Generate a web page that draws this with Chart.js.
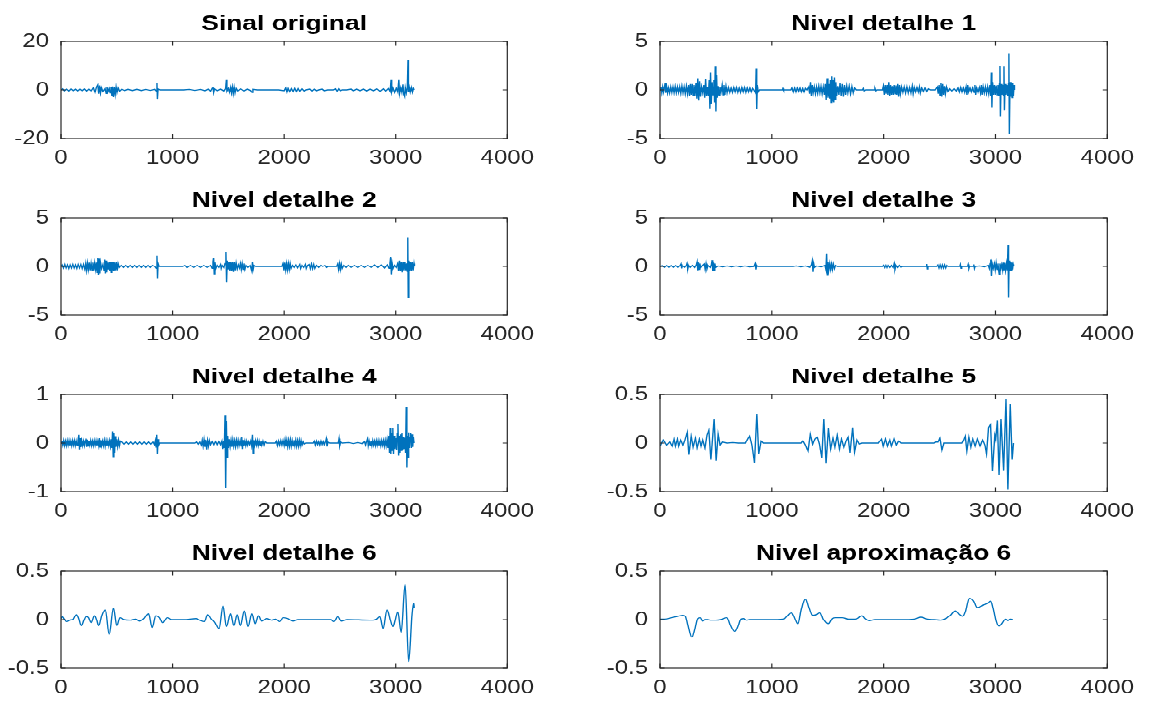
<!DOCTYPE html>
<html>
<head>
<meta charset="utf-8">
<title>Decomposição wavelet</title>
<script src="https://cdn.jsdelivr.net/npm/chart.js@4.4.0/dist/chart.umd.min.js"></script>
<style>
    html, body { margin: 0; padding: 0; background: #fff; overflow: hidden; }
    /* figure is laid out tall and squeezed vertically */
    #figure { position: absolute; left: 0; top: 0; width: 1151px; height: 876px;
              transform: scaleY(0.81); transform-origin: 0 0; }
    #figure canvas { position: absolute; }
</style>
</head>
<body>
<div id="figure"></div>
<script>
"use strict";

// [amostra, amplitude]
const sinalOriginal = [[0,0],[15,0.4],[30,-0.35],[50,0.3],[70,-0.4],[90,0.35],[110,-0.25],[130,0.3],[150,-0.35],[170,0.25],[190,-0.3],[210,0.35],[230,-0.4],[250,0.3],[270,-0.35],[290,0.8],[305,-0.9],[320,1.3],[330,2.0],[338,-1.6],[346,1.8],[354,-1.2],[362,0.9],[375,-0.6],[395,0.5],[405,-1.4],[412,1.3],[420,-0.8],[432,0.6],[440,-1.2],[448,1.2],[456,-2.4],[462,1.4],[470,-3.0],[478,1.0],[486,-1.8],[494,1.2],[502,-1.0],[512,0.8],[525,-0.5],[545,0.25],[570,-0.25],[600,0.25],[640,-0.25],[680,0.25],[720,-0.25],[760,0.2],[800,-0.2],[840,0.2],[855,-0.4],[860,2.7],[864,-3.7],[870,0.4],[890,0],[1000,0],[1100,0],[1150,0.2],[1200,-0.2],[1250,0.2],[1290,-0.3],[1320,0.3],[1340,-0.5],[1355,0.6],[1362,1.3],[1368,-1.0],[1375,0.4],[1400,-0.3],[1430,0.3],[1460,-0.4],[1475,0.5],[1482,4.1],[1487,-0.5],[1500,0.6],[1510,-0.9],[1520,1.0],[1528,-1.2],[1536,1.2],[1544,-1.5],[1552,1.0],[1560,-1.2],[1570,0.6],[1585,-0.4],[1610,0.4],[1640,-0.4],[1670,0.3],[1700,-0.3],[1712,-1.0],[1720,0.2],[1760,0],[1850,0],[1950,0],[2000,-0.3],[2015,0.8],[2025,-0.8],[2035,0.6],[2050,-0.7],[2065,0.5],[2080,-0.6],[2095,0.6],[2110,-0.6],[2125,0.5],[2140,-0.5],[2160,0.4],[2180,-0.4],[2195,0],[2230,0.3],[2250,-0.4],[2270,0.3],[2290,-0.3],[2310,0],[2340,0.3],[2360,-0.3],[2390,0],[2440,0],[2460,0.4],[2475,-0.5],[2490,0.4],[2505,-0.3],[2520,0],[2560,0],[2600,0.3],[2620,-0.3],[2650,0.3],[2680,-0.3],[2710,0.3],[2740,-0.4],[2770,0.3],[2800,-0.3],[2830,0.4],[2860,-0.5],[2890,0.4],[2910,-0.4],[2935,0.5],[2950,-0.6],[2958,4.1],[2964,-0.8],[2975,0.8],[2990,-1.0],[3005,0.7],[3018,-0.8],[3028,4.1],[3034,-1.5],[3045,0.9],[3055,-1.0],[3065,2.2],[3072,-1.8],[3080,-2.7],[3086,0.8],[3095,-1.2],[3104,1.0],[3110,12.3],[3114,-1.0],[3122,1.0],[3130,-0.8],[3140,1.0],[3150,-0.9],[3158,0.6],[3165,0]];

const detalhe1 = [[0,0],[8,0.3],[16,-0.3],[24,0.3],[32,-0.2],[40,0.3],[47,0.75],[52,-0.3],[60,0.3],[68,-0.3],[76,0.2],[86,-0.3],[96,0.3],[106,-0.25],[116,0.3],[126,-0.3],[136,0.35],[146,-0.3],[156,0.3],[166,-0.25],[176,0.3],[186,-0.35],[196,0.4],[206,-0.3],[216,0.3],[226,-0.4],[236,0.4],[246,-0.4],[256,0.5],[264,-0.6],[272,0.6],[280,-0.5],[288,0.6],[296,-0.6],[304,0.5],[312,-0.6],[322,0.7],[330,-0.9],[338,1.2],[346,-1.1],[354,0.9],[362,-0.7],[372,0.3],[382,-0.3],[392,0.5],[400,-0.8],[408,1.1],[416,-0.6],[424,0.3],[432,-0.6],[440,1.0],[446,-1.9],[452,1.8],[458,-1.5],[466,0.8],[474,-0.5],[482,1.0],[488,-1.3],[494,2.4],[500,-2.2],[506,1.5],[512,-0.8],[520,0.4],[528,-0.6],[536,0.3],[546,-0.2],[556,0.5],[564,-0.5],[572,0.5],[580,-0.5],[590,0.4],[600,-0.3],[612,0.25],[624,-0.25],[636,0.2],[648,-0.25],[660,0.25],[672,-0.2],[684,0.25],[696,-0.25],[708,0.2],[720,-0.25],[732,0.25],[744,-0.2],[756,0.25],[768,-0.25],[780,0.2],[792,-0.2],[804,0.2],[816,-0.2],[828,0.15],[840,0],[855,-0.3],[860,2.2],[865,-2.0],[870,0.5],[878,-0.2],[890,0],[1000,0],[1095,0],[1100,0.15],[1105,0],[1170,0],[1180,0.2],[1192,-0.2],[1204,0.2],[1216,-0.2],[1228,0.2],[1240,-0.15],[1252,0.2],[1264,-0.2],[1276,0.15],[1288,-0.2],[1300,0.15],[1315,0],[1330,0.3],[1338,-0.4],[1346,0.8],[1354,-0.6],[1362,0.5],[1370,-0.3],[1380,0.3],[1390,-0.4],[1400,0.3],[1410,-0.35],[1420,0.4],[1430,-0.3],[1440,0.35],[1450,-0.4],[1460,0.3],[1470,-0.5],[1478,0.6],[1486,-1.0],[1494,1.2],[1502,-0.8],[1510,0.6],[1518,-0.9],[1524,1.0],[1530,-1.3],[1536,1.4],[1542,-1.2],[1548,1.0],[1554,-1.3],[1560,1.3],[1566,-1.0],[1572,0.8],[1580,-0.6],[1590,0.4],[1600,-0.5],[1610,0.7],[1620,-0.6],[1630,0.6],[1640,-0.7],[1650,0.5],[1660,-0.5],[1670,0.4],[1680,-0.3],[1692,0.4],[1704,-0.4],[1716,0.35],[1728,-0.3],[1740,0.2],[1755,0],[1810,0],[1818,0.15],[1826,-0.1],[1840,0],[1915,0],[1922,0.15],[1930,-0.1],[1940,0],[1990,0],[1998,0.4],[2006,-0.5],[2014,0.5],[2022,-0.4],[2030,0.5],[2038,-0.5],[2046,0.8],[2054,-0.6],[2062,0.5],[2070,-0.5],[2078,0.4],[2086,-0.5],[2094,0.5],[2102,-0.4],[2110,0.45],[2118,-0.5],[2126,0.6],[2134,-0.7],[2142,0.5],[2150,-0.4],[2160,0.3],[2172,-0.25],[2184,0.3],[2196,-0.3],[2208,0.3],[2220,-0.3],[2232,0.25],[2244,-0.3],[2256,0.4],[2264,-0.4],[2274,0.25],[2286,-0.2],[2298,0.25],[2310,-0.2],[2320,0.3],[2328,-0.3],[2340,0.2],[2355,-0.15],[2370,0.2],[2385,-0.15],[2400,0.1],[2420,0],[2460,0],[2480,0.3],[2488,-0.4],[2496,0.5],[2504,-0.6],[2512,0.75],[2520,-0.7],[2528,0.6],[2536,-0.5],[2544,0.4],[2552,-0.4],[2562,0.3],[2575,-0.15],[2590,0.1],[2610,-0.1],[2630,0.1],[2650,-0.1],[2665,0.2],[2677,-0.2],[2689,0.25],[2701,-0.2],[2713,0.2],[2725,-0.25],[2737,0.3],[2745,-0.5],[2752,0.5],[2760,-0.2],[2772,0.2],[2784,-0.2],[2796,0.2],[2808,-0.25],[2816,0.5],[2823,-0.5],[2832,0.2],[2844,-0.2],[2856,0.25],[2866,-0.3],[2874,0.5],[2881,-0.5],[2890,0.3],[2900,-0.3],[2910,0.3],[2920,-0.35],[2930,0.3],[2940,-0.4],[2950,0.5],[2958,-0.6],[2963,1.8],[2968,-1.8],[2974,0.8],[2982,-0.5],[2990,0.5],[2998,-0.5],[3006,0.45],[3014,-0.5],[3022,0.5],[3030,-0.6],[3036,0.6],[3040,2.5],[3044,-2.7],[3050,0.6],[3058,-0.5],[3066,0.5],[3072,-0.6],[3076,2.4],[3080,-2.1],[3086,0.6],[3094,-0.5],[3102,0.5],[3110,-0.6],[3116,0.6],[3120,3.7],[3124,-4.5],[3130,0.8],[3136,-0.7],[3142,0.8],[3148,-0.8],[3154,0.7],[3160,-0.6],[3166,0.5],[3170,0]];

const detalhe2 = [[0,0],[10,0.15],[22,-0.15],[34,0.2],[46,-0.15],[58,0.15],[70,-0.2],[82,0.15],[94,-0.15],[106,0.2],[118,-0.15],[130,0.15],[142,-0.2],[154,0.2],[166,-0.15],[178,0.2],[190,-0.2],[202,0.2],[214,-0.3],[222,0.3],[230,-0.4],[238,0.35],[246,-0.3],[254,0.4],[262,-0.4],[270,0.3],[278,-0.35],[286,0.4],[294,-0.4],[302,0.35],[310,-0.3],[318,0.4],[324,-0.6],[330,0.9],[336,-0.9],[342,0.8],[348,-0.7],[354,0.4],[364,-0.2],[376,0.2],[386,-0.4],[392,0.7],[398,-0.7],[404,0.6],[410,-0.6],[416,0.4],[424,-0.3],[432,0.5],[438,-0.5],[444,0.5],[450,-0.6],[456,0.5],[462,-0.4],[468,0.5],[474,-0.5],[480,0.4],[488,-0.4],[496,0.45],[504,-0.4],[512,0.3],[522,-0.1],[540,0.1],[560,-0.1],[580,0.1],[600,-0.1],[620,0.1],[640,-0.1],[660,0.1],[680,-0.1],[700,0.1],[720,-0.1],[740,0.1],[760,-0.1],[780,0.1],[800,-0.1],[820,0.1],[840,0],[855,-0.2],[860,1.1],[865,-1.2],[870,0.3],[880,0],[1000,0],[1090,0],[1110,0.1],[1130,-0.1],[1160,0.1],[1190,-0.1],[1220,0.1],[1250,-0.1],[1280,0.1],[1310,-0.1],[1340,0.1],[1355,-0.2],[1362,0.5],[1368,0.9],[1373,-0.75],[1380,0.4],[1388,-0.2],[1400,0.1],[1415,-0.1],[1430,0.2],[1436,-0.2],[1445,0.1],[1460,-0.1],[1470,0.3],[1478,1.5],[1484,-1.6],[1490,0.6],[1498,-0.3],[1506,0.45],[1514,-0.5],[1522,0.5],[1530,-0.45],[1538,0.5],[1546,-0.55],[1554,0.45],[1562,-0.4],[1570,0.35],[1580,-0.25],[1590,0.15],[1600,-0.15],[1608,0.3],[1616,-0.3],[1624,0.3],[1632,-0.3],[1640,0.3],[1648,-0.3],[1658,0.1],[1675,-0.1],[1695,0.1],[1710,-0.45],[1716,0.45],[1722,-0.3],[1730,0.1],[1745,0],[1980,0],[1990,0.3],[1998,-0.4],[2006,0.4],[2014,-0.35],[2022,0.3],[2030,-0.35],[2038,0.3],[2046,-0.3],[2054,0.3],[2062,-0.2],[2075,0.1],[2090,-0.1],[2105,0.15],[2120,-0.15],[2140,0.2],[2148,-0.2],[2160,0.1],[2175,-0.1],[2190,0.2],[2198,-0.2],[2210,0.1],[2225,0.2],[2235,-0.2],[2245,0.25],[2255,-0.2],[2265,0.2],[2275,-0.2],[2290,0.1],[2310,-0.1],[2330,0.1],[2345,0],[2365,0.1],[2380,-0.1],[2395,0],[2470,0],[2480,0.25],[2488,-0.3],[2496,0.3],[2504,-0.3],[2512,0.25],[2520,-0.2],[2535,0.1],[2555,-0.1],[2575,0.1],[2600,-0.1],[2630,0.1],[2660,-0.1],[2690,0.1],[2720,-0.1],[2750,0.1],[2780,-0.1],[2810,0.15],[2840,-0.1],[2870,0.15],[2900,-0.15],[2925,0.15],[2940,-0.2],[2948,0.3],[2955,1.0],[2961,-0.8],[2968,0.3],[2976,-0.2],[2990,0.1],[3005,-0.1],[3018,0.3],[3026,-0.5],[3034,0.6],[3042,-0.5],[3050,0.5],[3058,-0.6],[3066,0.5],[3074,-0.4],[3082,0.5],[3090,-0.4],[3098,0.3],[3104,-0.5],[3108,2.95],[3112,-3.2],[3118,0.6],[3124,-0.5],[3132,0.5],[3140,-0.45],[3148,0.5],[3156,-0.4],[3164,0.3],[3168,0]];

const detalhe3 = [[0,0],[20,0.08],[40,-0.08],[60,0.08],[80,-0.08],[100,0.08],[120,-0.08],[140,0.08],[160,-0.08],[180,0.1],[188,0.25],[194,-0.2],[200,0.08],[220,-0.08],[236,0.1],[242,0.3],[248,-0.25],[256,0.1],[270,-0.1],[290,0.1],[310,-0.1],[325,0.15],[332,0.45],[338,-0.4],[344,0.4],[350,-0.3],[356,0.3],[364,-0.1],[380,0.1],[396,0.25],[404,-0.3],[412,0.3],[420,-0.25],[430,0.1],[450,-0.1],[460,0.2],[466,0.65],[472,-0.5],[478,0.4],[484,-0.4],[490,0.3],[498,-0.1],[520,0.05],[560,-0.05],[600,0.05],[640,-0.05],[680,0.05],[720,-0.05],[760,0.05],[800,-0.05],[840,0],[852,0.3],[858,-0.3],[864,0.1],[875,0],[1000,0],[1190,0],[1220,0.05],[1260,-0.05],[1300,0.05],[1340,-0.1],[1356,0.2],[1362,0.55],[1368,-0.55],[1374,0.3],[1382,-0.1],[1400,0.05],[1440,-0.05],[1475,0.1],[1484,-0.3],[1490,1.35],[1496,-0.9],[1502,0.5],[1510,-0.3],[1518,0.3],[1526,-0.3],[1534,0.25],[1542,-0.3],[1550,0.25],[1560,-0.2],[1570,0.1],[1585,0],[1990,0],[2000,0.12],[2010,-0.12],[2020,0.12],[2030,-0.12],[2040,0.1],[2055,-0.1],[2070,0.1],[2085,-0.1],[2095,0.3],[2101,-0.3],[2110,0.1],[2125,-0.1],[2140,0.1],[2155,-0.08],[2170,0],[2380,0],[2385,0.25],[2390,-0.25],[2396,0],[2475,0],[2485,0.15],[2495,-0.15],[2505,0.15],[2515,-0.15],[2525,0.15],[2535,-0.15],[2545,0.15],[2555,-0.15],[2565,0.1],[2575,0],[2680,0],[2686,0.2],[2692,-0.2],[2698,0],[2750,0],[2756,0.2],[2762,-0.2],[2768,0],[2800,0],[2806,0.2],[2812,-0.2],[2818,0],[2860,0.05],[2900,-0.05],[2935,0.1],[2945,-0.2],[2952,0.3],[2958,0.7],[2964,-1.0],[2970,0.3],[2980,-0.2],[2990,0.3],[2998,-0.35],[3006,0.35],[3014,-0.3],[3022,0.3],[3028,-0.4],[3034,-0.8],[3040,0.3],[3048,-0.2],[3056,0.2],[3064,-0.35],[3070,0.4],[3076,-0.4],[3082,0.35],[3090,-0.4],[3098,0.3],[3106,-0.4],[3112,2.2],[3117,-3.2],[3122,0.6],[3128,-0.5],[3134,0.5],[3140,-0.4],[3146,0.4],[3152,-0.3],[3158,0.2],[3162,0]];

const detalhe4 = [[0,0],[8,0.04],[16,-0.04],[24,0.05],[32,-0.05],[40,0.04],[48,-0.05],[56,0.05],[64,-0.04],[72,0.05],[80,-0.05],[88,0.04],[96,-0.05],[104,0.05],[112,-0.04],[120,0.05],[128,-0.05],[136,0.04],[144,-0.05],[152,0.05],[160,0.17],[166,-0.13],[172,0.1],[178,-0.08],[186,0.05],[194,-0.05],[202,0.04],[210,-0.05],[218,0.05],[224,0.09],[230,-0.08],[236,0.07],[242,-0.06],[250,0.05],[258,-0.04],[266,0.05],[274,-0.05],[282,0.04],[290,-0.05],[298,0.05],[306,-0.04],[314,0.05],[322,-0.05],[330,0.04],[338,-0.05],[344,0.1],[350,-0.08],[356,0.06],[364,-0.05],[372,0.04],[380,-0.05],[388,0.06],[396,-0.06],[404,0.05],[412,-0.06],[420,0.04],[428,-0.05],[436,0.05],[444,-0.06],[450,0.08],[456,-0.1],[462,0.24],[468,-0.28],[474,0.2],[480,-0.2],[486,0.14],[492,-0.08],[500,0.08],[508,-0.07],[516,0.06],[524,-0.05],[532,0.04],[545,0.02],[565,-0.02],[585,0.02],[605,-0.02],[625,0.02],[645,-0.02],[665,0.02],[685,-0.02],[705,0.02],[725,-0.02],[745,0.02],[765,-0.02],[785,0.02],[805,-0.02],[825,0.02],[838,-0.03],[846,0.05],[852,-0.08],[858,0.17],[864,-0.22],[870,0.08],[876,-0.04],[885,0],[1000,0],[1200,0],[1215,0.02],[1230,-0.02],[1245,0.02],[1258,-0.04],[1266,0.06],[1274,-0.06],[1282,0.07],[1290,-0.08],[1298,0.06],[1306,-0.13],[1314,0.05],[1322,-0.06],[1330,0.05],[1340,-0.03],[1355,0.03],[1370,-0.03],[1385,0.03],[1400,-0.03],[1415,0.03],[1430,-0.03],[1442,0.04],[1450,-0.12],[1458,0.05],[1464,-0.1],[1470,0.58],[1476,-0.92],[1482,0.45],[1488,-0.3],[1494,0.15],[1500,-0.1],[1508,0.08],[1516,-0.07],[1524,0.06],[1532,-0.08],[1540,0.07],[1548,-0.06],[1556,0.05],[1564,-0.07],[1572,0.06],[1580,-0.05],[1588,0.06],[1596,-0.05],[1606,0.05],[1614,-0.06],[1620,0.12],[1626,-0.12],[1632,0.06],[1640,-0.05],[1648,0.04],[1656,-0.05],[1664,0.04],[1672,-0.04],[1680,0.03],[1690,-0.03],[1700,0.04],[1708,-0.05],[1716,0.17],[1722,-0.21],[1728,0.06],[1736,-0.04],[1744,0.05],[1752,-0.04],[1760,0.05],[1768,-0.05],[1776,0.04],[1784,-0.04],[1792,0.05],[1800,-0.04],[1810,0.04],[1820,-0.04],[1830,0.03],[1845,0],[1920,0],[1930,0.04],[1940,-0.05],[1950,0.04],[1960,-0.04],[1970,0.05],[1980,-0.04],[1990,0.05],[2000,-0.05],[2008,0.07],[2016,-0.07],[2024,0.06],[2032,-0.07],[2040,0.06],[2048,-0.06],[2056,0.07],[2064,-0.06],[2072,0.05],[2080,-0.06],[2088,0.06],[2096,-0.05],[2104,0.06],[2112,-0.06],[2120,0.05],[2128,-0.06],[2136,0.06],[2144,-0.05],[2152,0.05],[2160,-0.04],[2170,0.03],[2180,-0.02],[2195,0],[2260,0],[2270,0.04],[2280,-0.04],[2290,0.04],[2300,-0.03],[2310,0.03],[2320,-0.04],[2330,0.04],[2340,-0.03],[2350,0.03],[2360,-0.03],[2372,0.04],[2378,0.09],[2384,-0.07],[2392,0.02],[2410,0],[2485,0],[2492,0.09],[2498,-0.05],[2506,0.02],[2520,0],[2580,0.01],[2620,-0.01],[2660,0.01],[2700,-0.01],[2720,0.03],[2730,-0.04],[2740,0.04],[2748,0.09],[2754,-0.05],[2762,0.04],[2770,-0.04],[2778,0.04],[2786,-0.05],[2794,0.05],[2802,-0.04],[2810,0.04],[2818,-0.05],[2826,0.05],[2834,-0.04],[2842,0.05],[2850,-0.05],[2858,0.04],[2866,-0.05],[2874,0.05],[2882,-0.04],[2890,0.05],[2898,-0.06],[2906,0.06],[2914,-0.05],[2922,0.07],[2930,-0.1],[2938,0.15],[2944,-0.2],[2950,0.3],[2956,-0.22],[2962,0.2],[2968,-0.15],[2974,0.31],[2980,-0.22],[2986,0.15],[2992,-0.12],[3000,0.1],[3008,-0.15],[3014,0.2],[3020,0.4],[3026,-0.26],[3032,0.15],[3038,-0.2],[3044,0.18],[3050,-0.15],[3056,0.2],[3062,-0.15],[3068,0.12],[3074,-0.12],[3082,0.1],[3088,-0.2],[3094,0.74],[3100,-0.51],[3106,0.15],[3112,-0.3],[3116,0.22],[3122,-0.1],[3128,0.12],[3134,0.2],[3140,-0.1],[3146,0.18],[3152,-0.08],[3158,0.12],[3164,0]];

const detalhe5 = [[0,-0.03],[29,0.03],[59,-0.02],[88,0.01],[109,-0.03],[126,0.04],[138,-0.03],[156,0.04],[167,-0.03],[185,0.03],[205,-0.02],[220,0.02],[244,0.11],[258,-0.12],[279,0.07],[296,-0.04],[317,0.05],[332,-0.05],[352,0.04],[367,-0.03],[382,0.03],[402,-0.05],[420,0.08],[437,0.13],[455,-0.17],[484,0.25],[502,-0.18],[520,0.09],[537,-0.02],[558,0.01],[600,0],[650,0.005],[700,0],[763,0],[778,0.03],[801,0.07],[822,-0.02],[845,-0.2],[866,0.3],[883,-0.11],[904,0.02],[925,0],[1000,0],[1100,0],[1262,0],[1277,0.02],[1300,-0.02],[1324,-0.08],[1344,0.09],[1365,-0.01],[1385,0.04],[1406,0.06],[1426,-0.01],[1447,-0.15],[1465,0.25],[1485,-0.21],[1506,0.15],[1526,-0.06],[1547,0.05],[1564,-0.04],[1585,0.08],[1605,-0.06],[1623,0.04],[1644,-0.04],[1664,0.02],[1682,0.06],[1699,-0.1],[1723,0.16],[1740,-0.09],[1761,0.03],[1782,-0.01],[1805,0],[1952,0],[1966,0.02],[1981,0.04],[1996,-0.03],[2016,0.04],[2034,-0.03],[2055,0.03],[2069,-0.03],[2093,0.04],[2113,-0.02],[2134,0.02],[2157,0],[2451,0],[2465,0.01],[2486,0.01],[2503,0.05],[2521,-0.07],[2539,0],[2700,0],[2715,0.03],[2730,0.07],[2744,-0.08],[2762,0.06],[2780,-0.04],[2797,0.04],[2818,-0.03],[2838,0.04],[2862,-0.03],[2885,0.03],[2906,-0.02],[2920,-0.11],[2938,0.16],[2956,0.19],[2973,-0.29],[2994,0.08],[3002,0.04],[3017,0.23],[3032,-0.33],[3049,0.25],[3073,-0.28],[3094,0.45],[3111,-0.48],[3132,0.4],[3149,-0.17],[3161,0]];

const detalhe6 = [[0,0.01],[12,0.03],[29,0.005],[50,-0.02],[79,-0.005],[109,0.005],[138,0.05],[159,0.01],[182,-0.06],[206,-0.005],[226,0.03],[247,0.02],[270,-0.03],[300,0.04],[320,-0.005],[338,-0.06],[365,0.04],[397,0.1],[432,-0.15],[470,0.12],[500,-0.06],[529,0.02],[564,0],[623,-0.005],[667,0.005],[706,-0.015],[741,0.01],[785,0.06],[817,-0.08],[850,0.04],[882,0.02],[911,-0.03],[953,0.02],[991,0],[1100,0],[1211,0.01],[1241,-0.005],[1285,-0.02],[1314,0.05],[1344,0.01],[1379,-0.03],[1417,-0.09],[1452,0.14],[1482,-0.07],[1520,0.06],[1549,-0.06],[1579,0.05],[1608,-0.06],[1643,0.09],[1676,-0.07],[1711,0.06],[1740,-0.04],[1770,0.04],[1799,-0.015],[1843,0.01],[1887,-0.005],[1923,0.005],[1961,-0.02],[1990,0.02],[2034,0.01],[2079,-0.015],[2123,0],[2300,0],[2417,0],[2446,-0.02],[2481,0.03],[2511,-0.015],[2564,0],[2769,-0.005],[2799,-0.005],[2828,0.005],[2858,0.03],[2887,-0.09],[2922,0.1],[2952,-0.005],[2975,-0.07],[2993,-0.015],[3019,0.08],[3049,-0.13],[3084,0.36],[3116,-0.43],[3146,0.05],[3161,0.17],[3166,0.12]];

const aproximacao6 = [[0,0.005],[44,0.005],[103,0.02],[161,0.035],[205,0.045],[226,0.035],[249,-0.055],[285,-0.18],[308,-0.11],[338,0.01],[361,0.02],[382,-0.015],[402,0],[426,0],[455,-0.005],[499,-0.005],[543,0],[596,0.02],[631,-0.06],[669,-0.12],[696,-0.07],[725,0.005],[748,0.01],[772,-0.005],[801,0],[866,0],[983,0],[1101,0.005],[1136,0.035],[1174,0.07],[1206,0.01],[1233,-0.04],[1262,0.1],[1300,0.21],[1330,0.13],[1365,0.045],[1394,0.05],[1429,0.07],[1459,0.005],[1506,-0.04],[1541,0.01],[1570,0.02],[1629,0.02],[1688,0.005],[1746,0.005],[1776,0.02],[1805,0.04],[1834,0.01],[1870,-0.01],[1922,0],[2040,0],[2157,0],[2275,0.005],[2333,0.025],[2392,0.005],[2451,0],[2509,-0.005],[2553,0.01],[2597,0.045],[2641,0.09],[2671,0.06],[2706,0.035],[2730,0.08],[2768,0.22],[2803,0.19],[2838,0.125],[2891,0.15],[2926,0.165],[2956,0.19],[2979,0.115],[3008,-0.02],[3032,-0.065],[3052,-0.045],[3073,-0.015],[3091,0.005],[3111,-0.01],[3132,0.005],[3155,0]];

// eixos
const xTicks = [0, 1000, 2000, 3000, 4000];
const yTicksOriginal = [-20, 0, 20];
const yTicksDetalhe = [-5, 0, 5];
const yTicksDetalhe4 = [-1, 0, 1];
const yTicksFino = [-0.5, 0, 0.5];

const titles = ['Sinal original', 'Nivel detalhe 1', 'Nivel detalhe 2', 'Nivel detalhe 3',
                'Nivel detalhe 4', 'Nivel detalhe 5', 'Nivel detalhe 6', 'Nivel aproximação 6'];

const subplots = [
    { data: sinalOriginal, yTicks: yTicksOriginal, smooth: false },
    { data: detalhe1,      yTicks: yTicksDetalhe,  smooth: false },
    { data: detalhe2,      yTicks: yTicksDetalhe,  smooth: false },
    { data: detalhe3,      yTicks: yTicksDetalhe,  smooth: false },
    { data: detalhe4,      yTicks: yTicksDetalhe4, smooth: false },
    { data: detalhe5,      yTicks: yTicksFino,     smooth: false },
    { data: detalhe6,      yTicks: yTicksFino,     smooth: true },
    { data: aproximacao6,  yTicks: yTicksFino,     smooth: true },
];

const FONT = '"Liberation Sans", Arial, Helvetica, sans-serif';
const AXIS_COLOR = '#262626';
const LINE_COLOR = '#0072BD';

// subplot geometry (in unscaled figure px)
const CANVAS_LEFT = [0, 590];
const PLOT_LEFT = [61, 660];
const PLOT_RIGHT = [514, 1114];
const PLOT_TOP = [51, 269, 487, 705];
const PLOT_H = 120;
const TITLE_SPACE = 50;
const XAXIS_H = 45;
const RIGHT_PAD = 30;

Chart.defaults.font.family = FONT;
Chart.defaults.color = AXIS_COLOR;

// box, inward ticks on all four sides and the title
const axesBoxPlugin = {
    id: 'axesBox',
    afterDraw: function (chart, args, opts) {
        const ctx = chart.ctx;
        const a = chart.chartArea;
        const xs = chart.scales.x;
        const ys = chart.scales.y;
        ctx.save();
        ctx.strokeStyle = AXIS_COLOR;
        ctx.lineWidth = 1.2;
        ctx.strokeRect(a.left, a.top, a.right - a.left, a.bottom - a.top);
        ctx.beginPath();
        xs.ticks.forEach(t => {
            const px = xs.getPixelForValue(t.value);
            ctx.moveTo(px, a.bottom); ctx.lineTo(px, a.bottom - 5.5);
            ctx.moveTo(px, a.top);    ctx.lineTo(px, a.top + 5.5);
        });
        ys.ticks.forEach(t => {
            const py = ys.getPixelForValue(t.value);
            ctx.moveTo(a.left, py);  ctx.lineTo(a.left + 4.5, py);
            ctx.moveTo(a.right, py); ctx.lineTo(a.right - 4.5, py);
        });
        ctx.stroke();

        ctx.fillStyle = '#000';
        ctx.font = 'bold 26.4px ' + FONT;
        ctx.textAlign = 'center';
        ctx.textBaseline = 'alphabetic';
        ctx.fillText(opts.title, (a.left + a.right) / 2, a.top - 14);
        ctx.restore();
    }
};

function fixedTicks(values) {
    return function (scale) {
        scale.ticks = values.map(v => ({ value: v }));
    };
}

function makeSubplot(index) {
    const sp = subplots[index];
    const col = index % 2;
    const row = Math.floor(index / 2);
    const canvasLeft = CANVAS_LEFT[col];
    const width = PLOT_RIGHT[col] - canvasLeft + RIGHT_PAD;
    const height = TITLE_SPACE + PLOT_H + XAXIS_H;

    const canvas = document.createElement('canvas');
    canvas.width = width;
    canvas.height = height;
    canvas.style.left = canvasLeft + 'px';
    canvas.style.top = (PLOT_TOP[row] - TITLE_SPACE) + 'px';
    document.getElementById('figure').appendChild(canvas);

    const yAxisWidth = PLOT_LEFT[col] - canvasLeft;

    return new Chart(canvas.getContext('2d'), {
        type: 'line',
        data: {
            datasets: [{
                data: sp.data.map(p => ({ x: p[0], y: p[1] })),
                borderColor: LINE_COLOR,
                borderWidth: 1.4,
                pointRadius: 0,
                fill: false,
                tension: 0,
                cubicInterpolationMode: sp.smooth ? 'monotone' : 'default'
            }]
        },
        options: {
            responsive: false,
            animation: false,
            devicePixelRatio: 1,
            layout: { padding: { top: TITLE_SPACE, right: RIGHT_PAD, left: 0, bottom: 0 } },
            plugins: {
                legend: { display: false },
                tooltip: { enabled: false },
                axesBox: { title: titles[index] }
            },
            scales: {
                x: {
                    type: 'linear',
                    min: xTicks[0],
                    max: xTicks[xTicks.length - 1],
                    afterBuildTicks: fixedTicks(xTicks),
                    afterFit: function (scale) { scale.height = XAXIS_H; },
                    grid: { display: false, drawTicks: false },
                    border: { display: false },
                    ticks: {
                        padding: 10,
                        maxRotation: 0,
                        font: { size: 24 },
                        color: AXIS_COLOR,
                        callback: v => String(v)
                    }
                },
                y: {
                    type: 'linear',
                    min: sp.yTicks[0],
                    max: sp.yTicks[sp.yTicks.length - 1],
                    afterBuildTicks: fixedTicks(sp.yTicks),
                    afterFit: function (scale) { scale.width = yAxisWidth; },
                    grid: { display: false, drawTicks: false },
                    border: { display: false },
                    ticks: {
                        padding: 12,
                        font: { size: 24 },
                        color: AXIS_COLOR,
                        callback: v => String(v)
                    }
                }
            }
        },
        plugins: [axesBoxPlugin]
    });
}

subplots.forEach((sp, i) => makeSubplot(i));
</script>
</body>
</html>
